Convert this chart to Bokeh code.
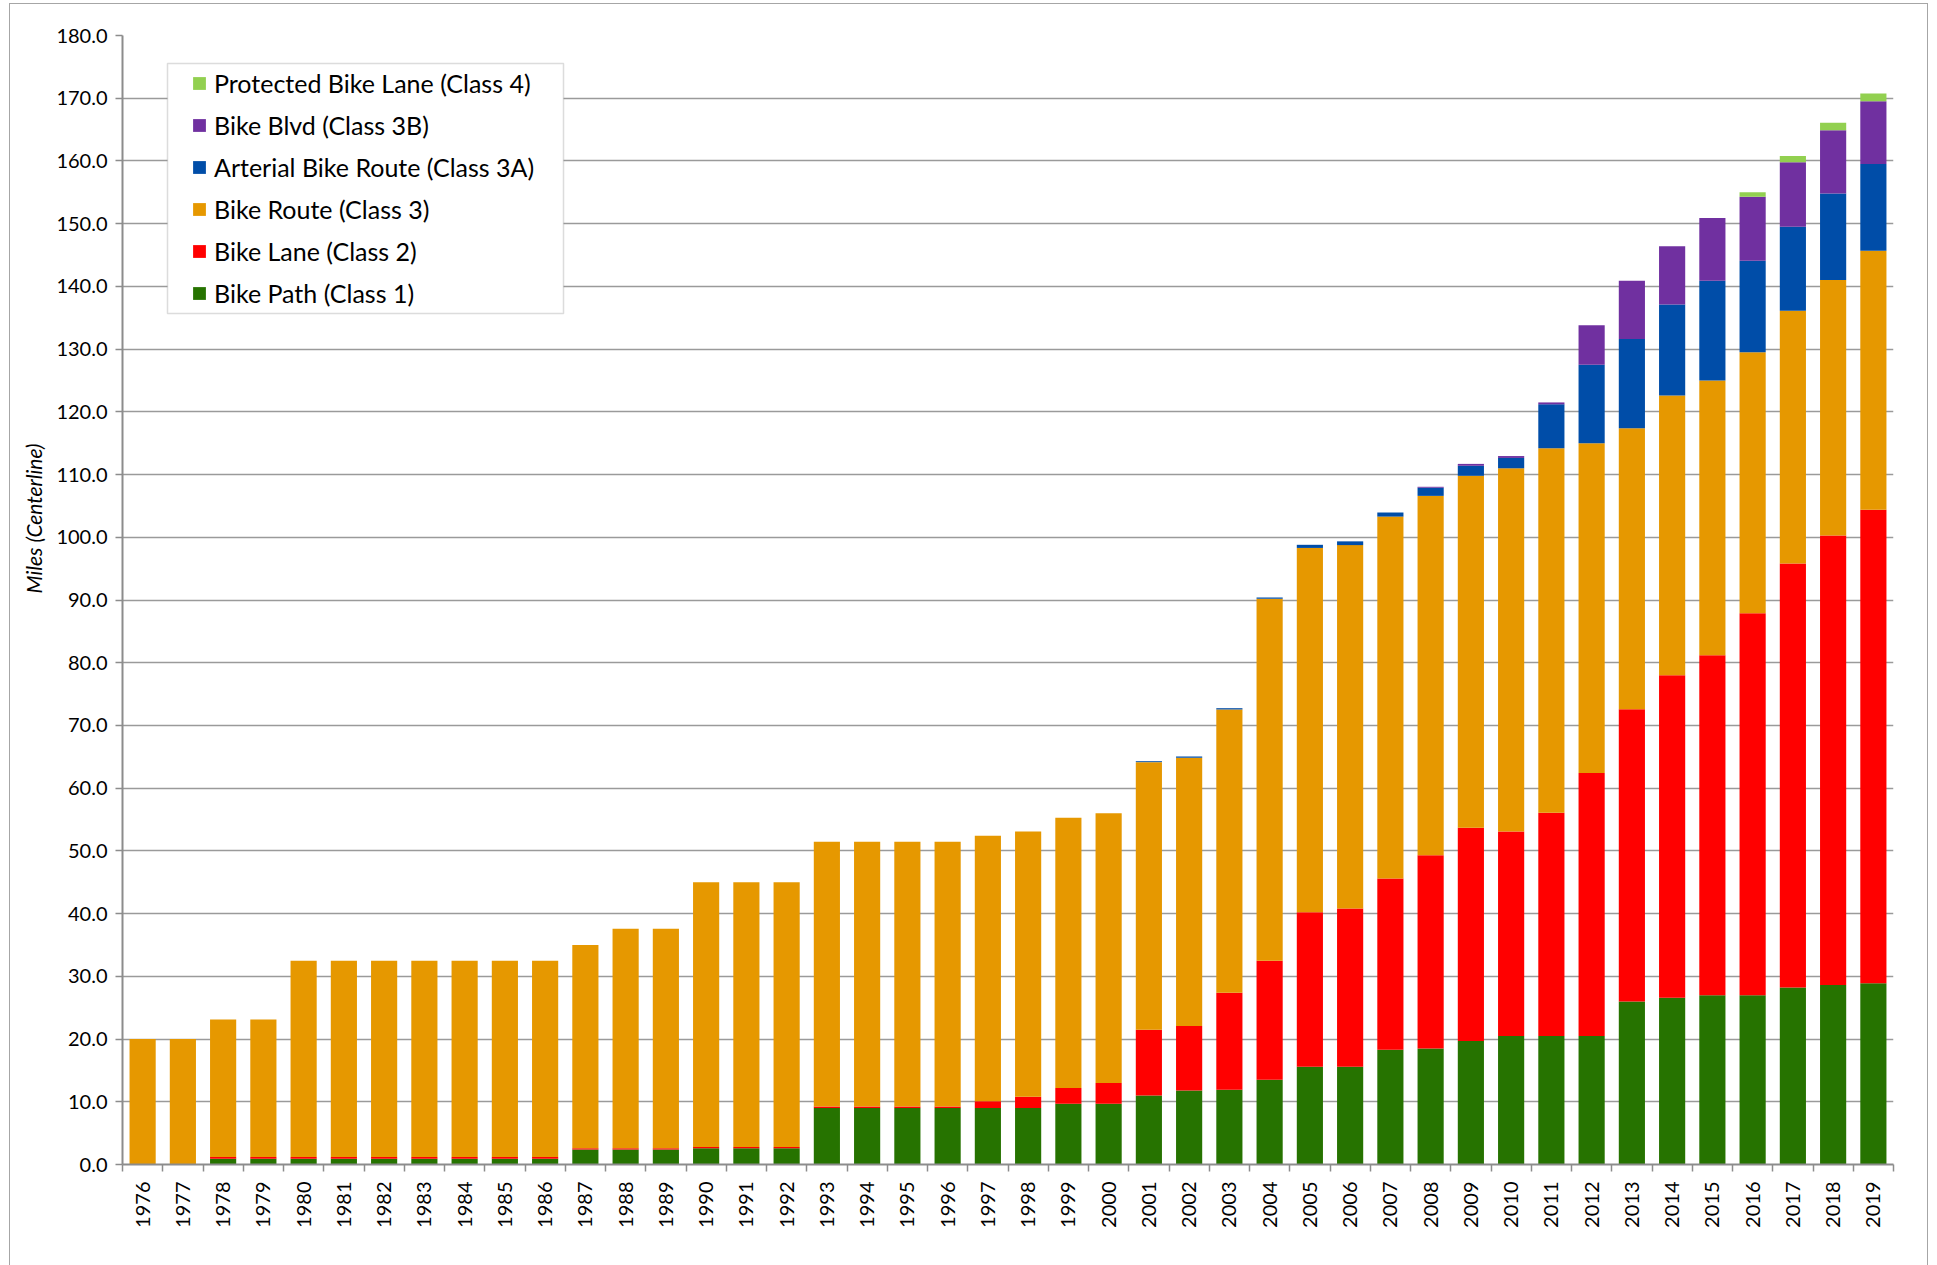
import math
from bokeh.plotting import figure
from bokeh.models import (FixedTicker, NumeralTickFormatter, Legend, LegendItem,
                          BoxAnnotation, Title, ColumnDataSource, Range1d)
from bokeh.embed import file_html
from bokeh.resources import INLINE

# ---------------- data ----------------
years = ["1976", "1977", "1978", "1979", "1980", "1981", "1982", "1983", "1984", "1985",
         "1986", "1987", "1988", "1989", "1990", "1991", "1992", "1993", "1994", "1995",
         "1996", "1997", "1998", "1999", "2000", "2001", "2002", "2003", "2004", "2005",
         "2006", "2007", "2008", "2009", "2010", "2011", "2012", "2013", "2014", "2015",
         "2016", "2017", "2018", "2019"]

bike_path = [0.0, 0.0, 0.9, 0.9, 0.9, 0.9, 0.9, 0.9, 0.9, 0.9,
             0.9, 2.4, 2.4, 2.4, 2.6, 2.6, 2.6, 9.0, 9.0, 9.0,
             9.0, 9.0, 9.0, 9.7, 9.7, 11.0, 11.8, 11.9, 13.5, 15.6,
             15.6, 18.3, 18.5, 19.7, 20.5, 20.5, 20.5, 26.0, 26.6, 27.0,
             27.0, 28.2, 28.6, 28.9]

bike_lane = [0.0, 0.0, 0.3, 0.3, 0.3, 0.3, 0.3, 0.3, 0.3, 0.3,
             0.3, 0.2, 0.2, 0.2, 0.2, 0.2, 0.2, 0.25, 0.25, 0.25,
             0.25, 1.1, 1.8, 2.5, 3.3, 10.5, 10.3, 15.5, 19.0, 24.6,
             25.2, 27.3, 30.8, 34.0, 32.6, 35.6, 41.9, 46.6, 51.4, 54.2,
             60.9, 67.6, 71.7, 75.5]

bike_route = [20.0, 20.0, 21.9, 21.9, 31.3, 31.3, 31.3, 31.3, 31.3, 31.3,
              31.3, 32.4, 35.0, 35.0, 42.2, 42.2, 42.2, 42.2, 42.2, 42.2,
              42.2, 42.3, 42.3, 43.1, 43.0, 42.65, 42.75, 45.15, 57.7, 58.1,
              57.95, 57.7, 57.3, 56.1, 57.9, 58.1, 52.6, 44.8, 44.6, 43.8,
              41.6, 40.3, 40.7, 41.3]

arterial = [0.0, 0.0, 0.0, 0.0, 0.0, 0.0, 0.0, 0.0, 0.0, 0.0,
            0.0, 0.0, 0.0, 0.0, 0.0, 0.0, 0.0, 0.0, 0.0, 0.0,
            0.0, 0.0, 0.0, 0.0, 0.0, 0.15, 0.2, 0.2, 0.2, 0.5,
            0.6, 0.65, 1.3, 1.6, 1.65, 7.0, 12.5, 14.2, 14.5, 15.9,
            14.6, 13.4, 13.8, 13.8]

bike_blvd = [0.0, 0.0, 0.0, 0.0, 0.0, 0.0, 0.0, 0.0, 0.0, 0.0,
             0.0, 0.0, 0.0, 0.0, 0.0, 0.0, 0.0, 0.0, 0.0, 0.0,
             0.0, 0.0, 0.0, 0.0, 0.0, 0.0, 0.0, 0.0, 0.0, 0.0,
             0.0, 0.0, 0.15, 0.3, 0.3, 0.3, 6.3, 9.3, 9.3, 10.0,
             10.2, 10.3, 10.1, 10.0]

protected = [0.0, 0.0, 0.0, 0.0, 0.0, 0.0, 0.0, 0.0, 0.0, 0.0,
             0.0, 0.0, 0.0, 0.0, 0.0, 0.0, 0.0, 0.0, 0.0, 0.0,
             0.0, 0.0, 0.0, 0.0, 0.0, 0.0, 0.0, 0.0, 0.0, 0.0,
             0.0, 0.0, 0.0, 0.0, 0.0, 0.0, 0.0, 0.0, 0.0, 0.0,
             0.7, 1.0, 1.2, 1.25]

series_keys = ["path", "lane", "route", "arterial", "blvd", "protected"]
series_names = ["Bike Path (Class 1)", "Bike Lane (Class 2)", "Bike Route (Class 3)",
                "Arterial Bike Route (Class 3A)", "Bike Blvd (Class 3B)",
                "Protected Bike Lane (Class 4)"]
series_colors = ["#267300", "#FF0000", "#E69800", "#004DA8", "#7030A0", "#92D050"]

y_ticks = [0, 10, 20, 30, 40, 50, 60, 70, 80, 90, 100, 110, 120, 130, 140, 150, 160, 170, 180]

# ---------------- figure ----------------
FONT = "Lato"
W, H = 1917, 1261

xs = list(range(len(years)))
source = ColumnDataSource(dict(x=xs, path=bike_path, lane=bike_lane, route=bike_route,
                               arterial=arterial, blvd=bike_blvd, protected=protected))

p = figure(width=W, height=H, output_backend="svg", toolbar_location=None,
           x_range=Range1d(-0.5, len(years) - 0.5), y_range=Range1d(0, 180),
           min_border_left=112, min_border_right=34, min_border_top=31, min_border_bottom=101)
p.styles = {"margin-left": "10px", "margin-top": "4px",
            "outline": "1.5px solid #a6a6a6"}
p.background_fill_color = "white"
p.border_fill_color = "white"
p.outline_line_color = None

renderers = p.vbar_stack(series_keys, x="x", width=0.65, source=source,
                         color=series_colors, line_color=None)

# y axis
p.yaxis.ticker = FixedTicker(ticks=y_ticks)
p.yaxis.formatter = NumeralTickFormatter(format="0.0")
p.yaxis.axis_line_color = "#8c8c8c"
p.yaxis.axis_line_width = 2
p.yaxis.major_tick_line_color = "#8c8c8c"
p.yaxis.major_tick_line_width = 1.5
p.yaxis.major_tick_out = 7
p.yaxis.major_tick_in = 0
p.yaxis.minor_tick_line_color = None
p.yaxis.major_label_text_font = FONT
p.yaxis.major_label_text_font_size = "20px"
p.yaxis.major_label_text_color = "black"
p.yaxis.major_label_standoff = 8

p.ygrid.ticker = FixedTicker(ticks=y_ticks)
p.ygrid.grid_line_color = "#9a9a9a"
p.ygrid.grid_line_width = 1.5
p.xgrid.grid_line_color = None

# x axis: labels at centers, tick marks between categories
p.xaxis.ticker = FixedTicker(ticks=xs, minor_ticks=[i - 0.5 for i in range(len(years) + 1)])
p.xaxis.major_label_overrides = {i: y for i, y in enumerate(years)}
p.xaxis.major_label_orientation = math.pi / 2
p.xaxis.major_label_text_font = FONT
p.xaxis.major_label_text_font_size = "20px"
p.xaxis.major_label_text_color = "black"
p.xaxis.major_tick_line_color = None
p.xaxis.major_tick_out = 0
p.xaxis.major_tick_in = 0
p.xaxis.minor_tick_line_color = "#8c8c8c"
p.xaxis.minor_tick_line_width = 1.5
p.xaxis.minor_tick_out = 7
p.xaxis.minor_tick_in = 0
p.xaxis.major_label_standoff = 10
p.xaxis.axis_line_color = "#8c8c8c"
p.xaxis.axis_line_width = 2

# legend box
box = BoxAnnotation(left=157, right=553, top=59, bottom=309,
                    left_units="canvas", right_units="canvas",
                    top_units="canvas", bottom_units="canvas",
                    fill_color="white", fill_alpha=1.0,
                    line_color="#8c8c8c", line_width=1.5)
p.add_layout(box)

items = [LegendItem(label=series_names[i], renderers=[renderers[i]]) for i in range(5, -1, -1)]
legend = Legend(items=items, location=(69, 856), padding=0, margin=0,
                border_line_color=None, background_fill_alpha=0,
                glyph_width=16, glyph_height=16, label_height=30, spacing=12,
                label_standoff=7, label_text_font=FONT, label_text_font_size="25px",
                label_text_color="black")
p.add_layout(legend)

# y axis title
ytitle = Title(text="Miles (Centerline)", align="left", offset=571, standoff=15,
               text_font=FONT, text_font_style="italic", text_font_size="21px",
               text_color="black")
p.add_layout(ytitle, "left")

open("out.html", "w").write(file_html(p, INLINE))
